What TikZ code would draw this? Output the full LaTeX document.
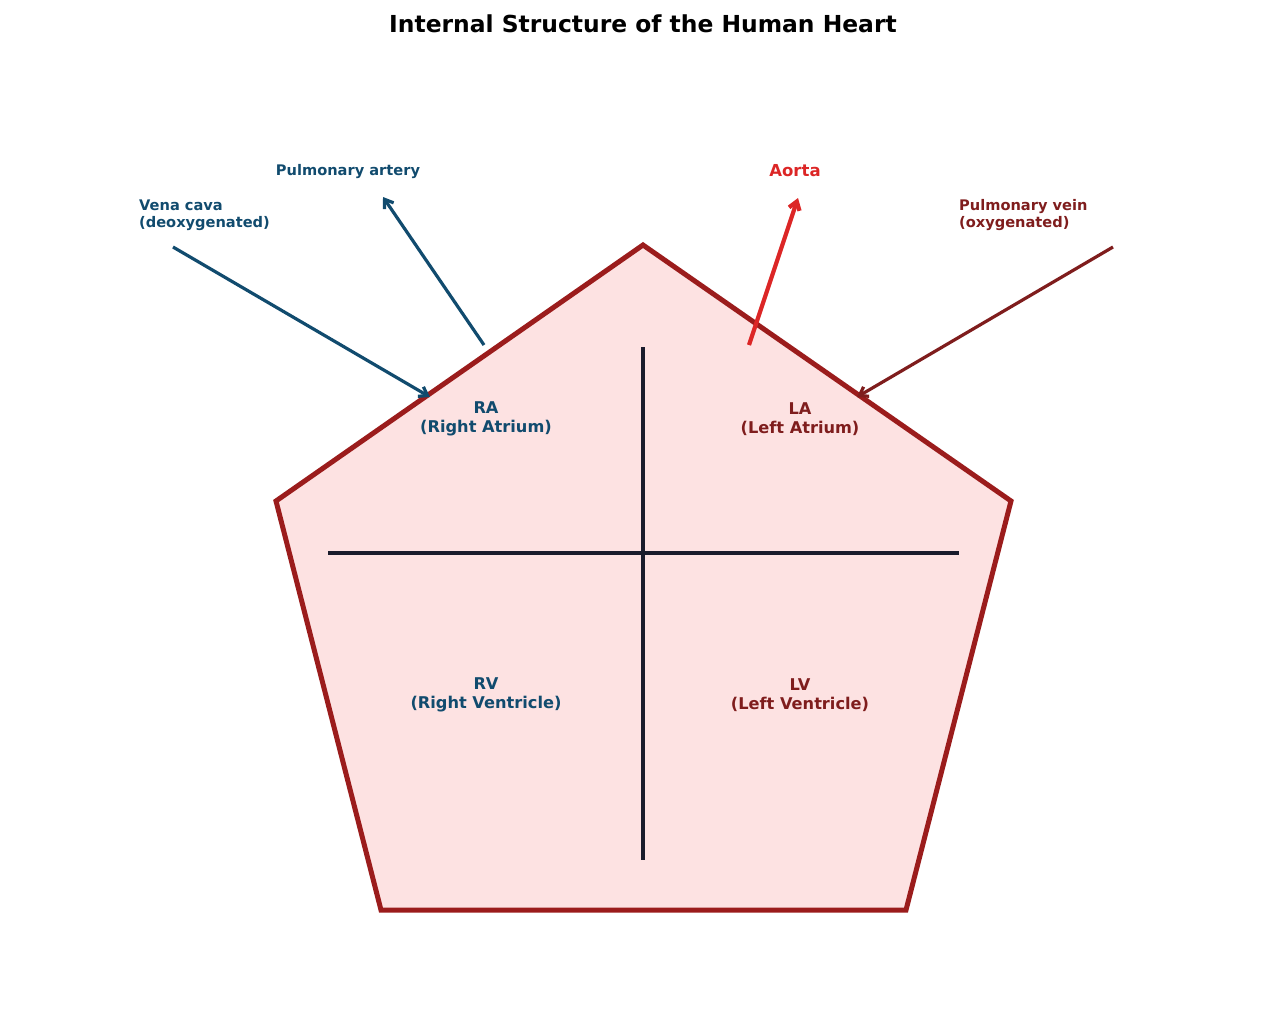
\documentclass[tikz,border=0pt]{standalone}
\usepackage{fontspec}
\setmainfont{DejaVu Sans}
\usetikzlibrary{arrows.meta}
\definecolor{deoxy}{HTML}{114B6E}
\definecolor{oxy}{HTML}{7F1D1D}
\definecolor{aortared}{HTML}{DC2626}
\definecolor{wall}{HTML}{9B1C1C}
\definecolor{tissue}{HTML}{FDE2E2}
\definecolor{septum}{HTML}{1A1C2C}
\tikzset{
  chamber/.style={inner sep=0pt,align=center,font=\bfseries\fontsize{16.2}{19.5}\selectfont},
  vessel/.style={inner sep=0pt,font=\bfseries\fontsize{14.6}{16.5}\selectfont},
  flow/.style={line width=3.2pt,-{Straight Barb[length=8pt,width=11pt]}}
}
\begin{document}
\begin{tikzpicture}[x=1pt,y=-1pt]
\useasboundingbox (0,0) rectangle (1287,1026);
% title
\node[inner sep=0pt,font=\bfseries\fontsize{23.4}{26}\selectfont] (title) at (643,24) {Internal Structure of the Human Heart};
% heart outline
\draw[wall,fill=tissue,line width=5pt,line join=miter] (643,245) -- (1011,501) -- (906,910) -- (381,910) -- (276,501) -- cycle;
% septa
\draw[septum,line width=3.2pt] (643,347) -- (643,860);
\draw[septum,line width=3.2pt] (328,553) -- (959,553);
% chambers
\node[chamber,text=deoxy] (ra) at (486,419) {RA\\(Right Atrium)};
\node[chamber,text=oxy] (la) at (800,419) {LA\\(Left Atrium)};
\node[chamber,text=deoxy] (rv) at (486,695) {RV\\(Right Ventricle)};
\node[chamber,text=oxy] (lv) at (800,695) {LV\\(Left Ventricle)};
% vessels
\node[vessel,text=deoxy,anchor=west,align=left] (vcava) at (139,215) {Vena cava\\(deoxygenated)};
\node[vessel,text=deoxy] (partery) at (348,172) {Pulmonary artery};
\node[vessel,text=aortared,font=\bfseries\fontsize{16.5}{18}\selectfont] (aorta) at (795,171) {Aorta};
\node[vessel,text=oxy,anchor=west,align=left] (pvein) at (959,215) {Pulmonary vein\\(oxygenated)};
\coordinate (vcstart) at (173,247);
\coordinate (vcend) at (430,397);
\coordinate (pastart) at (484,345);
\coordinate (paend) at (383,197);
\coordinate (aostart) at (749,345);
\coordinate (aoend) at (798,198);
\coordinate (pvstart) at (1113,247);
\coordinate (pvend) at (857,397);
\draw[flow,deoxy] (vcstart) -- (vcend);
\draw[flow,deoxy] (pastart) -- (paend);
\draw[flow,aortared,line width=4.2pt] (aostart) -- (aoend);
\draw[flow,oxy] (pvstart) -- (pvend);
\end{tikzpicture}
\end{document}
